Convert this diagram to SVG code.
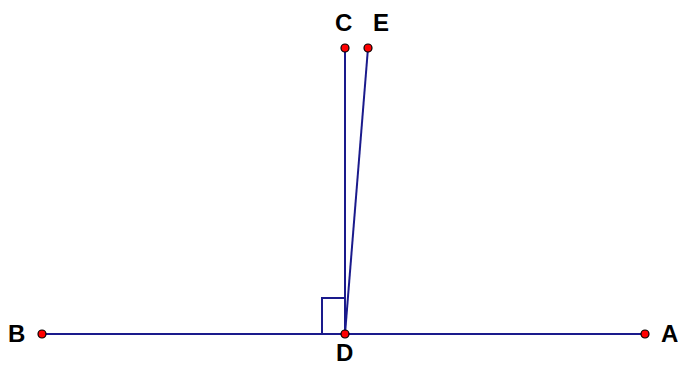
<svg xmlns="http://www.w3.org/2000/svg" width="678" height="367" viewBox="0 0 678 367">
<style>
.ln{stroke:#1a1a8c;stroke-width:2;fill:none}
.pt{fill:#ff0000;stroke:#000;stroke-width:1.2}
.lb{font-family:"Liberation Sans",Arial,sans-serif;font-weight:bold;font-size:24px;fill:#000}
</style>
<rect width="678" height="367" fill="#fff"/>
<g id="connectors">
<line class="ln" x1="42" y1="334" x2="645" y2="334"/>
<line class="ln" x1="345" y1="334" x2="345" y2="48"/>
<line class="ln" x1="345" y1="334" x2="368" y2="48"/>
<polyline class="ln" points="322,334 322,298 345,298"/>
</g>
<g id="B"><circle class="pt" cx="42" cy="334" r="4"/><text class="lb" x="8" y="342">B</text></g>
<g id="A"><circle class="pt" cx="645" cy="334" r="4"/><text class="lb" x="661" y="342">A</text></g>
<g id="D"><circle class="pt" cx="345" cy="334" r="4"/><text class="lb" x="336" y="361">D</text></g>
<g id="C"><circle class="pt" cx="345" cy="48" r="4"/><text class="lb" x="335" y="31">C</text></g>
<g id="E"><circle class="pt" cx="368" cy="48" r="4"/><text class="lb" x="373" y="31">E</text></g>
</svg>
